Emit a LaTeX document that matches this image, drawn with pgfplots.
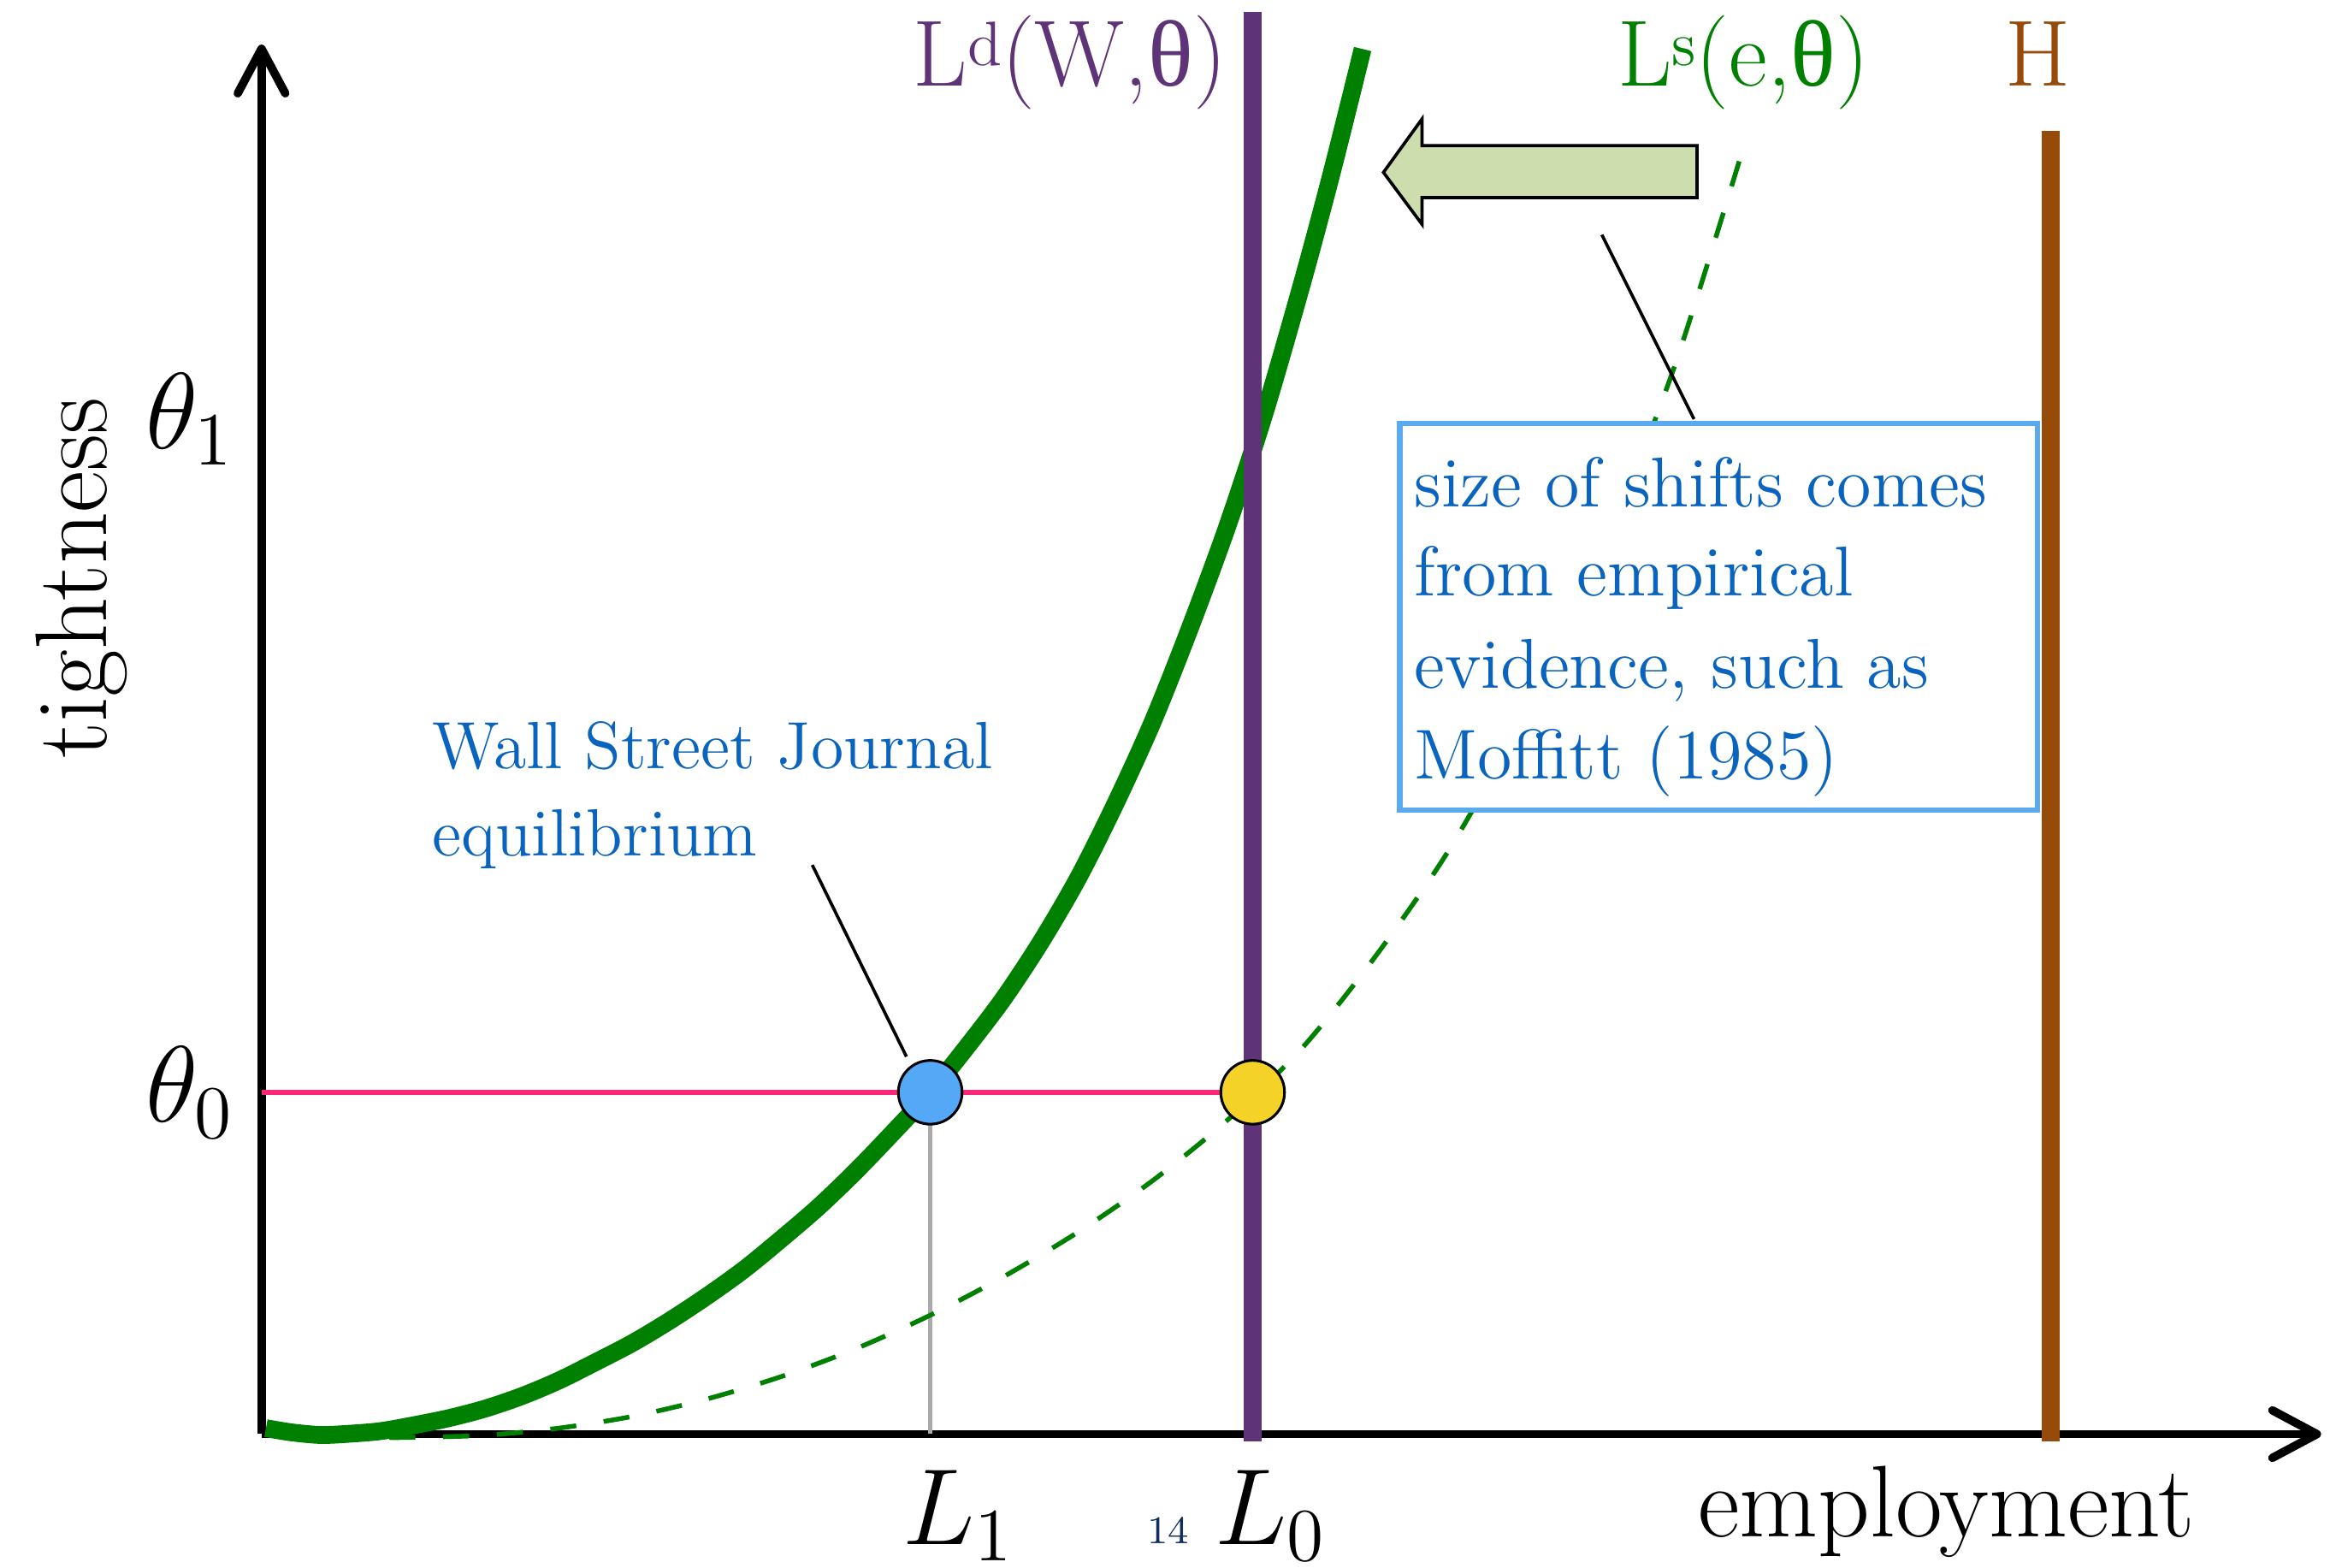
\documentclass[border=0pt]{standalone}
\usepackage{fontspec}
\usepackage{pgfplots}
\pgfplotsset{compat=1.18}
\usetikzlibrary{arrows.meta}
\newfontfamily\grk{Liberation Serif}
\definecolor{cgreen}{HTML}{008000}
\definecolor{cpurple}{HTML}{5E3377}
\definecolor{cbrown}{HTML}{964B0A}
\definecolor{cblue}{HTML}{0A64BE}
\definecolor{cbox}{HTML}{5AAAF0}
\definecolor{ccircle}{HTML}{55A8F5}
\definecolor{cyellow}{HTML}{F5D228}
\definecolor{cpink}{HTML}{FF2878}
\definecolor{cgray}{HTML}{AAAAAA}
\definecolor{carrow}{HTML}{CEDDAE}
\definecolor{cnavy}{HTML}{0F2D5F}
\newcommand{\lsup}[1]{\raisebox{4pt}{\fontsize{12}{14}\selectfont #1}}
\begin{document}
\begin{tikzpicture}
\begin{axis}[
  scale only axis, width=138.6mm, height=93.5mm,
  xmin=0, xmax=1386, ymin=0, ymax=935,
  axis lines=left,
  axis line style={line width=1.6pt, -{Straight Barb[length=3mm,width=3.2mm,round]}},
  clip=false,
  major tick length=0pt,
  xtick={450,667}, xticklabels={\hspace*{3.8mm}$L_1$,\hspace*{2.4mm}$L_0$},
  ytick={230,683}, yticklabels={$\theta_0$,$\theta_1$},
  tick label style={font=\fontsize{21}{25}\selectfont, inner sep=0pt},
  xticklabel style={anchor=north, yshift=-6.8pt},
  yticklabel style={anchor=east, xshift=-5pt},
  xlabel={employment}, ylabel={tightness},
  every axis x label/.style={at={(axis description cs:0.6970,-0.0738)}, anchor=base west, font=\fontsize{19.5}{23}\selectfont, inner sep=0pt},
  every axis y label/.style={at={(axis description cs:-0.0873,0.6160)}, rotate=90, anchor=center, font=\fontsize{19.5}{23}\selectfont, inner sep=0pt},
]
% helper lines
\addplot[cgray, line width=0.75pt] coordinates {(450,0) (450,230)};
\addplot[cpink, line width=0.95pt] coordinates {(0,230) (667,230)};
% shifted labour supply (dashed)
\addplot[cgreen, line width=0.9pt, dash pattern=on 5pt off 5.3pt, smooth] coordinates {
(86,-2.3) (100,-2.2) (150,-0.8) (200,4) (250,12) (300,23.7) (350,38.8) (400,57.5) (450,80)
(500,106.3) (550,136.3) (600,170.8) (650,211.3) (700,259.5) (750,322) (800,394.5)
(850,484) (900,588) (950,716) (997,865)};
% labour supply (solid)
\addplot[cgreen, line width=3.4pt, smooth] coordinates {
(3,4) (20,1.2) (40,-0.6) (60,0.3) (80,2) (100,5.5) (125,10.5) (150,17) (175,25.5) (200,36)
(225,48.5) (250,61.5) (275,76.5) (300,93) (325,111) (350,131.5) (375,153) (400,177)
(425,203) (450,230) (475,261) (500,294) (525,332) (550,375) (575,425) (600,480)
(625,543) (650,611) (675,687) (700,773.5) (720,848) (741,932)};
% demand and H
\addplot[cpurple, line width=3.5pt] coordinates {(667,-5) (667,957)};
\addplot[cbrown, line width=3.5pt] coordinates {(1204,-5) (1204,877)};
% equilibria
\addplot[only marks, mark=*, mark size=6.1pt, mark options={fill=ccircle, draw=black, line width=0.5pt}] coordinates {(450,230)};
\addplot[only marks, mark=*, mark size=6.1pt, mark options={fill=cyellow, draw=black, line width=0.5pt}] coordinates {(667,230)};
% annotation box
\draw[cbox, line width=1pt, fill=white] (axis cs:766,420) rectangle (axis cs:1195,680);
\node[anchor=base west, inner sep=0pt, text=cblue, font=\fontsize{13.5}{16}\selectfont] at (axis cs:775,624) {size of shifts comes};
\node[anchor=base west, inner sep=0pt, text=cblue, font=\fontsize{13.5}{16}\selectfont] at (axis cs:775,564) {from empirical};
\node[anchor=base west, inner sep=0pt, text=cblue, font=\fontsize{13.5}{16}\selectfont] at (axis cs:775,502) {evidence, such as};
\node[anchor=base west, inner sep=0pt, text=cblue, font=\fontsize{13.5}{16}\selectfont] at (axis cs:775,441) {Moffitt (1985)};
\draw[black, line width=0.6pt] (axis cs:902,807) -- (axis cs:964,683);
% shift arrow
\draw[fill=carrow, draw=black, line width=0.6pt] (axis cs:755,849) -- (axis cs:781,885) -- (axis cs:781,867) -- (axis cs:966,867) -- (axis cs:966,832) -- (axis cs:781,832) -- (axis cs:781,814) -- cycle;
% WSJ label
\node[anchor=base west, inner sep=0pt, text=cblue, font=\fontsize{12.8}{15}\selectfont] at (axis cs:114,448) {Wall Street Journal};
\node[anchor=base west, inner sep=0pt, text=cblue, font=\fontsize{12.8}{15}\selectfont] at (axis cs:114,389) {equilibrium};
\draw[black, line width=0.6pt] (axis cs:370.6,383) -- (axis cs:434,254);
% curve labels
\node[anchor=base west, inner sep=0pt, text=cpurple, font=\fontsize{18}{21}\selectfont] at (axis cs:438,907) {L\lsup{d}(W,{\grk θ})};
\node[anchor=base west, inner sep=0pt, text=cgreen, font=\fontsize{18}{21}\selectfont] at (axis cs:912,907) {L\lsup{s}(e,{\grk θ})};
\node[anchor=base west, inner sep=0pt, text=cbrown, font=\fontsize{18}{21}\selectfont] at (axis cs:1173,907) {H};
\node[inner sep=0pt, text=cnavy, font=\fontsize{7.5}{9}\selectfont] at (axis cs:610,-65) {14};
\end{axis}
\pgfresetboundingbox
\path[use as bounding box] (-17.6mm,-9mm) rectangle (139.2mm,96.5mm);
\end{tikzpicture}
\end{document}
